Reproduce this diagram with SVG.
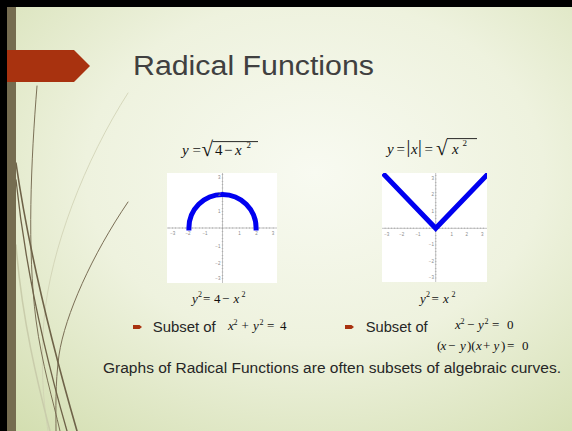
<svg xmlns="http://www.w3.org/2000/svg" width="572" height="431" viewBox="0 0 572 431">
<defs>
<radialGradient id="bg" cx="0.55" cy="0.4" r="0.8">
<stop offset="0" stop-color="#f8faf1"/>
<stop offset="0.5" stop-color="#eef2de"/>
<stop offset="1" stop-color="#d3deb0"/>
</radialGradient>
<clipPath id="c1"><rect x="167" y="173" width="110" height="110"/></clipPath>
<clipPath id="c2"><rect x="382" y="173" width="105" height="109"/></clipPath>
<style>
.m{font-family:"Liberation Serif","Times New Roman",serif;fill:#111;}
.i{font-style:italic;}
.lab{font-family:"Liberation Sans",Arial,sans-serif;font-size:4.5px;fill:#888;}
.ax{stroke:#9a9a9a;stroke-width:0.6;fill:none;}
.mt{stroke:#9a9a9a;stroke-width:1.6;fill:none;}
.body{font-family:"Liberation Sans",Arial,sans-serif;fill:#262626;}
.deco{fill:none;stroke-linecap:round;}
</style>
</defs>
<rect x="0" y="0" width="572" height="431" fill="url(#bg)"/>
<g id="decor">
<path class="deco" d="M128,93 C85,160 50,250 44,320 C40,370 44,405 48,431" stroke="#cfd1b2" stroke-width="0.8"/>
<path class="deco" d="M16,245 C22,320 38,385 50,431" stroke="#c9ccab" stroke-width="1.5"/>
<path class="deco" d="M37,86 C31,160 27,250 36,320 C42,365 53,400 60,431" stroke="#6e6248" stroke-width="0.9"/>
<path class="deco" d="M128,202 C92,255 65,315 59,355 C55,385 56,410 56,431" stroke="#7a6e55" stroke-width="1"/>
<path class="deco" d="M16,163 C30,260 55,355 77,431" stroke="#6e6248" stroke-width="1.6"/>
<path class="deco" d="M16,180 C26,275 48,365 67,431" stroke="#6e6248" stroke-width="1.3"/>
</g>
<g id="frame">
<rect x="0" y="0" width="572" height="7" fill="#000"/>
<rect x="0" y="0" width="7" height="431" fill="#000"/>
<rect x="7" y="7" width="9" height="424" fill="#756c50"/>
</g>
<g id="banner">
<polygon points="7,50 74,50 90,66 74,82 7,82" fill="#a8320f"/>
</g>
<g id="title">
<text x="133" y="75" font-family="'Liberation Sans',Arial,sans-serif" font-size="27" fill="#404040" textLength="241" lengthAdjust="spacingAndGlyphs">Radical Functions</text>
</g>
<g id="eq-left-top" font-size="15">
<text x="182" y="155" class="m i">y</text>
<text x="192.5" y="155" class="m">=</text>
<text x="201.5" y="156" class="m" font-size="21">√</text>
<line x1="212.5" y1="141.6" x2="258" y2="141.6" stroke="#111" stroke-width="0.9"/>
<text x="215" y="155" class="m">4</text>
<text x="224" y="155" class="m">−</text>
<text x="235" y="155" class="m i">x</text>
<text x="246.5" y="148" class="m" font-size="9">2</text>
</g>
<g id="eq-right-top" font-size="15">
<text x="387" y="153.5" class="m i">y</text>
<text x="396.5" y="153.5" class="m">=</text>
<text x="406.5" y="152.5" class="m" font-size="19">|</text>
<text x="411" y="153.5" class="m i">x</text>
<text x="418" y="152.5" class="m" font-size="19">|</text>
<text x="424.5" y="153.5" class="m">=</text>
<text x="436" y="154.5" class="m" font-size="21">√</text>
<line x1="447" y1="138.6" x2="477" y2="138.6" stroke="#111" stroke-width="0.9"/>
<text x="452" y="153.5" class="m i">x</text>
<text x="462.5" y="146" class="m" font-size="9">2</text>
</g>
<g id="graph-left">
<rect x="167" y="173" width="110" height="110" fill="#fff"/>
<line class="ax" x1="167" y1="228" x2="277" y2="228"/>
<line class="ax" x1="222.5" y1="173" x2="222.5" y2="283"/>
<line class="mt" x1="168.74" y1="228" x2="276.3" y2="228" stroke-dasharray="0.5 2.86"/>
<line class="mt" x1="222.5" y1="174.3" x2="222.5" y2="281.8" stroke-dasharray="0.5 2.86"/>
<g clip-path="url(#c1)">
<path d="M188.9,230.5 L188.9,228 A33.6,33.6 0 0 1 256.1,228 L256.1,230.5" fill="none" stroke="#0000f0" stroke-width="5"/>
</g>
<g class="lab" text-anchor="middle">
<text x="172.7" y="235">−3</text><text x="188" y="235">−2</text><text x="205" y="235">−1</text>
<text x="239.5" y="235">1</text><text x="256.5" y="235">2</text><text x="273" y="235">3</text>
</g>
<g class="lab" text-anchor="end">
<text x="220.5" y="178.5">3</text><text x="220.5" y="195.5">2</text><text x="220.5" y="213">1</text>
<text x="220.5" y="247.5">−1</text><text x="220.5" y="264.5">−2</text><text x="220.5" y="279.5">−3</text>
</g>
</g>
<g id="graph-right">
<rect x="382" y="173" width="105" height="109" fill="#fff"/>
<line class="ax" x1="382" y1="228.3" x2="487" y2="228.3"/>
<line class="ax" x1="435.7" y1="173" x2="435.7" y2="282"/>
<line class="mt" x1="384.82" y1="228.3" x2="486.6" y2="228.3" stroke-dasharray="0.5 2.68"/>
<line class="mt" x1="435.7" y1="175.5" x2="435.7" y2="281.1" stroke-dasharray="0.5 2.8"/>
<g clip-path="url(#c2)">
<polyline points="383,173.5 435.7,228.3 488.4,173.5" fill="none" stroke="#0000f0" stroke-width="5" stroke-linejoin="miter"/>
</g>
<g class="lab" text-anchor="middle">
<text x="386.7" y="235.5">−3</text><text x="401.7" y="235.5">−2</text><text x="418" y="235.5">−1</text>
<text x="451.7" y="235.5">1</text><text x="466.7" y="235.5">2</text><text x="482.3" y="235.5">3</text>
</g>
<g class="lab" text-anchor="end">
<text x="434" y="179.8">3</text><text x="434" y="195.8">2</text><text x="434" y="212.5">1</text>
<text x="434" y="245.8">−1</text><text x="434" y="262.5">−2</text><text x="434" y="279">−3</text>
</g>
</g>
<g id="eq-left-bottom" font-size="13">
<text x="192" y="303" class="m i">y</text>
<text x="198" y="297" class="m" font-size="8">2</text>
<text x="203" y="303" class="m">=</text>
<text x="214" y="303" class="m">4</text>
<text x="222" y="303" class="m">−</text>
<text x="233.5" y="303" class="m i">x</text>
<text x="241.5" y="297" class="m" font-size="8">2</text>
</g>
<g id="eq-right-bottom" font-size="13">
<text x="420" y="303" class="m i">y</text>
<text x="426" y="297" class="m" font-size="8">2</text>
<text x="431.5" y="303" class="m">=</text>
<text x="443" y="303" class="m i">x</text>
<text x="451.5" y="297" class="m" font-size="8">2</text>
</g>
<g id="bullet-left">
<polygon points="133,325 139.5,325 142,327 139.5,329 133,329" fill="#a8320f"/>
<text x="152.7" y="331.5" class="body" font-size="14" textLength="63" lengthAdjust="spacingAndGlyphs">Subset of</text>
<g font-size="13">
<text x="228" y="330" class="m i">x</text>
<text x="233.5" y="324.5" class="m" font-size="8">2</text>
<text x="241.5" y="330" class="m">+</text>
<text x="253" y="330" class="m i">y</text>
<text x="259.5" y="324.5" class="m" font-size="8">2</text>
<text x="267" y="330" class="m">=</text>
<text x="280" y="330" class="m">4</text>
</g>
</g>
<g id="bullet-right">
<polygon points="345,325 351.5,325 354,327 351.5,329 345,329" fill="#a8320f"/>
<text x="365.7" y="331.5" class="body" font-size="14" textLength="62" lengthAdjust="spacingAndGlyphs">Subset of</text>
<g font-size="13">
<text x="455" y="329.3" class="m i">x</text>
<text x="460.5" y="323.8" class="m" font-size="8">2</text>
<text x="467" y="329.3" class="m">−</text>
<text x="478" y="329.3" class="m i">y</text>
<text x="484.5" y="323.8" class="m" font-size="8">2</text>
<text x="492" y="329.3" class="m">=</text>
<text x="507" y="329.3" class="m">0</text>
</g>
<g font-size="13">
<text x="437" y="350" class="m">(</text>
<text x="440.5" y="350" class="m i">x</text>
<text x="448" y="350" class="m">−</text>
<text x="460" y="350" class="m i">y</text>
<text x="467" y="350" class="m">)(</text>
<text x="476" y="350" class="m i">x</text>
<text x="483" y="350" class="m">+</text>
<text x="493.5" y="350" class="m i">y</text>
<text x="501" y="350" class="m">)</text>
<text x="507" y="350" class="m">=</text>
<text x="522" y="350" class="m">0</text>
</g>
</g>
<g id="summary">
<text x="103" y="373" class="body" font-size="14" textLength="458" lengthAdjust="spacingAndGlyphs">Graphs of Radical Functions are often subsets of algebraic curves.</text>
</g>
</svg>
